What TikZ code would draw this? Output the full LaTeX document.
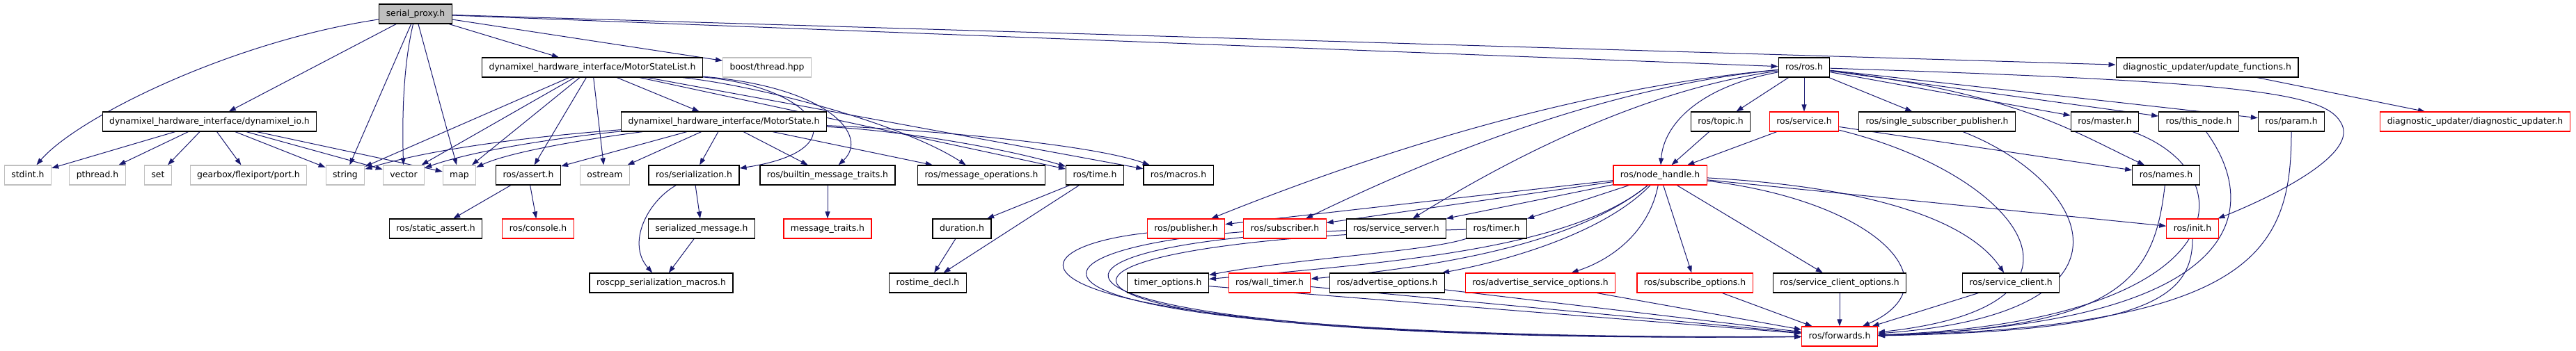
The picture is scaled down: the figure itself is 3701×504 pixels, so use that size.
\documentclass[tikz,border=0pt]{standalone}
\usepackage{fontspec}
\setmainfont{DejaVu Sans}
\usetikzlibrary{arrows.meta,backgrounds}
\definecolor{cEdge}{HTML}{191970}
\definecolor{cRed}{HTML}{FF0000}
\definecolor{cGrey}{HTML}{BFBFBF}

\begin{document}
\begin{tikzpicture}[x=1pt,y=-1pt,
  every node/.style={rectangle,fill=white,inner xsep=10pt,inner ysep=0pt,minimum height=28pt,
    text height=9.5pt,text depth=3pt,font=\fontsize{12.4}{14}\selectfont},
  hdr/.style={draw=black,line width=1.2pt},
  sys/.style={draw=cGrey,line width=1.2pt},
  nodoc/.style={draw=cRed,line width=1.2pt},
  root/.style={draw=black,fill=cGrey,line width=1.2pt},
  inc/.style={draw=cEdge,line width=1pt,-{Triangle[length=10pt,width=7pt]}}]
  \useasboundingbox (0,0) rectangle (3701,504);

  % row 0 and 1
  \node[root] (sp) at (597,20) {serial\_proxy.h};
  \node[hdr] (msl) at (851,97) {dynamixel\_hardware\_interface/MotorStateList.h};
  \node[sys] (boost) at (1102,97) {boost/thread.hpp};
  \node[hdr] (rosros) at (2592,97) {ros/ros.h};
  \node[hdr] (updfun) at (3171,97) {diagnostic\_updater/update\_functions.h};

  % row 2
  \node[hdr] (dxlio) at (301,175) {dynamixel\_hardware\_interface/dynamixel\_io.h};
  \node[hdr] (ms) at (1040,175) {dynamixel\_hardware\_interface/MotorState.h};
  \node[hdr] (topic) at (2472,175) {ros/topic.h};
  \node[nodoc] (service) at (2592,175) {ros/service.h};
  \node[hdr] (ssp) at (2783,175) {ros/single\_subscriber\_publisher.h};
  \node[hdr] (master) at (3024,175) {ros/master.h};
  \node[hdr] (thisnode) at (3159,175) {ros/this\_node.h};
  \node[hdr] (param) at (3292,175) {ros/param.h};
  \node[nodoc] (diagupd) at (3556,175) {diagnostic\_updater/diagnostic\_updater.h};

  % row 3
  \node[sys] (stdint) at (40,252) {stdint.h};
  \node[sys] (pthread) at (140,252) {pthread.h};
  \node[sys] (set) at (227,252) {set};
  \node[sys] (port) at (357,252) {gearbox/flexiport/port.h};
  \node[sys] (string) at (496,252) {string};
  \node[sys] (vector) at (580,252) {vector};
  \node[sys] (map) at (660,252) {map};
  \node[hdr] (assert) at (759,252) {ros/assert.h};
  \node[sys] (ostream) at (869,252) {ostream};
  \node[hdr] (serial) at (997,252) {ros/serialization.h};
  \node[hdr] (builtin) at (1189,252) {ros/builtin\_message\_traits.h};
  \node[hdr] (msgops) at (1410,252) {ros/message\_operations.h};
  \node[hdr] (time) at (1573,252) {ros/time.h};
  \node[hdr] (macros) at (1693,252) {ros/macros.h};
  \node[nodoc] (nh) at (2385,252) {ros/node\_handle.h};
  \node[hdr] (names) at (3112,252) {ros/names.h};

  % row 4
  \node[hdr] (sassert) at (626,329) {ros/static\_assert.h};
  \node[nodoc] (console) at (773,329) {ros/console.h};
  \node[hdr] (sermsg) at (1008,329) {serialized\_message.h};
  \node[nodoc] (msgtraits) at (1189,329) {message\_traits.h};
  \node[hdr] (duration) at (1382,329) {duration.h};
  \node[nodoc] (pub) at (1704,329) {ros/publisher.h};
  \node[nodoc] (sub) at (1846,329) {ros/subscriber.h};
  \node[hdr] (srvserver) at (2006,329) {ros/service\_server.h};
  \node[hdr] (timer) at (2150,329) {ros/timer.h};
  \node[nodoc] (init) at (3150,329) {ros/init.h};

  % row 5 and 6
  \node[hdr] (sermacros) at (950,407) {roscpp\_serialization\_macros.h};
  \node[hdr] (timedecl) at (1333,407) {rostime\_decl.h};
  \node[hdr] (timeropts) at (1678,407) {timer\_options.h};
  \node[nodoc] (walltimer) at (1824,407) {ros/wall\_timer.h};
  \node[hdr] (advopts) at (1993,407) {ros/advertise\_options.h};
  \node[nodoc] (advsrvopts) at (2213,407) {ros/advertise\_service\_options.h};
  \node[nodoc] (subopts) at (2435,407) {ros/subscribe\_options.h};
  \node[hdr] (srvcliopts) at (2643,407) {ros/service\_client\_options.h};
  \node[hdr] (srvcli) at (2889,407) {ros/service\_client.h};
  \node[nodoc] (fwd) at (2643,484) {ros/forwards.h};

  \begin{pgfonlayer}{background}
  % serial_proxy.h
  \draw[inc] (sp) .. controls (330,60) and (110,170) .. (stdint);
  \draw[inc] (sp) .. controls (578,100) and (578,180) .. (vector);
  \foreach \t in {dxlio,string,map,msl,boost,rosros,updfun} \draw[inc] (sp) -- (\t);

  % dynamixel_io.h
  \foreach \t in {stdint,pthread,set,port,string,vector,map} \draw[inc] (dxlio) -- (\t);

  % MotorStateList.h
  \foreach \t in {string,vector,map,assert,ostream,ms,time,macros} \draw[inc] (msl) -- (\t);
  \draw[inc] (msl) .. controls (1170,125) and (1240,215) .. (serial);
  \draw[inc] (msl) .. controls (1190,125) and (1250,195) .. (builtin);
  \draw[inc] (msl) .. controls (1100,125) and (1300,180) .. (msgops);

  % MotorState.h
  \draw[inc] (ms) .. controls (850,190) and (650,205) .. (string);
  \draw[inc] (ms) .. controls (860,192) and (700,210) .. (vector);
  \draw[inc] (ms) .. controls (880,195) and (740,215) .. (map);
  \foreach \t in {assert,ostream,serial,builtin,msgops} \draw[inc] (ms) -- (\t);
  \draw[inc] (ms) .. controls (1300,188) and (1450,215) .. (time);
  \draw[inc] (ms) .. controls (1300,185) and (1560,205) .. (macros);

  % message helpers
  \draw[inc] (assert) -- (sassert);
  \draw[inc] (assert) -- (console);
  \draw[inc] (serial) -- (sermsg);
  \draw[inc] (serial) .. controls (930,290) and (900,350) .. (sermacros);
  \draw[inc] (sermsg) -- (sermacros);
  \draw[inc] (builtin) -- (msgtraits);
  \draw[inc] (time) -- (duration);
  \draw[inc] (time) -- (timedecl);
  \draw[inc] (duration) -- (timedecl);

  % ros/ros.h
  \foreach \t in {topic,service,ssp,master,thisnode,param} \draw[inc] (rosros) -- (\t);
  \draw[inc] (rosros) .. controls (2440,125) and (2390,180) .. (nh);
  \draw[inc] (rosros) .. controls (2900,135) and (2980,190) .. (names);
  \draw[inc] (rosros) .. controls (3250,118) and (3345,135) .. (3365,180)
    .. controls (3385,225) and (3260,285) .. (init);
  \draw[inc] (rosros) .. controls (2250,128) and (1950,230) .. (pub);
  \draw[inc] (rosros) .. controls (2300,125) and (2050,230) .. (sub);
  \draw[inc] (rosros) .. controls (2350,130) and (2150,240) .. (srvserver);

  % ros/topic.h, ros/service.h
  \draw[inc] (topic) -- (nh);
  \draw[inc] (service) -- (nh);
  \draw[inc] (service) -- (names);
  \draw[inc] (service) .. controls (2900,250) and (3050,440) .. (fwd);

  % ros/node_handle.h
  \foreach \t in {pub,sub,srvserver,timer,subopts,srvcliopts,init} \draw[inc] (nh) -- (\t);
  \draw[inc] (nh) .. controls (2260,355) and (2050,385) .. (walltimer);
  \draw[inc] (nh) .. controls (2255,360) and (1990,378) .. (timeropts);
  \draw[inc] (nh) .. controls (2300,340) and (2150,378) .. (advopts);
  \draw[inc] (nh) .. controls (2370,330) and (2320,372) .. (advsrvopts);
  \draw[inc] (nh) .. controls (2700,270) and (2830,320) .. (srvcli);
  \draw[inc] (nh) .. controls (2700,290) and (2810,410) .. (fwd);
  \draw[inc] (timer) .. controls (2050,362) and (1860,372) .. (timeropts);

  % into ros/forwards.h
  \foreach \t in {timeropts,walltimer,advopts,advsrvopts,subopts,srvcliopts,srvcli} \draw[inc] (\t) -- (fwd);
  \draw[inc] (pub) .. controls (1420,360) and (1410,490) .. (fwd);
  \draw[inc] (sub) .. controls (1410,362) and (1400,492) .. (fwd);
  \draw[inc] (srvserver) .. controls (1390,352) and (1420,494) .. (fwd);
  \draw[inc] (timer) .. controls (1350,350) and (1400,496) .. (fwd);
  \draw[inc] (ssp) .. controls (3000,260) and (3100,450) .. (fwd);
  \draw[inc] (master) .. controls (3230,250) and (3220,462) .. (fwd);
  \draw[inc] (thisnode) .. controls (3250,300) and (3230,466) .. (fwd);
  \draw[inc] (param) .. controls (3292,360) and (3240,470) .. (fwd);
  \draw[inc] (names) .. controls (3095,400) and (3050,472) .. (fwd);
  \draw[inc] (init) .. controls (3150,430) and (3080,476) .. (fwd);

  % diagnostics
  \draw[inc] (updfun) -- (diagupd);
  \end{pgfonlayer}
\end{tikzpicture}
\end{document}
